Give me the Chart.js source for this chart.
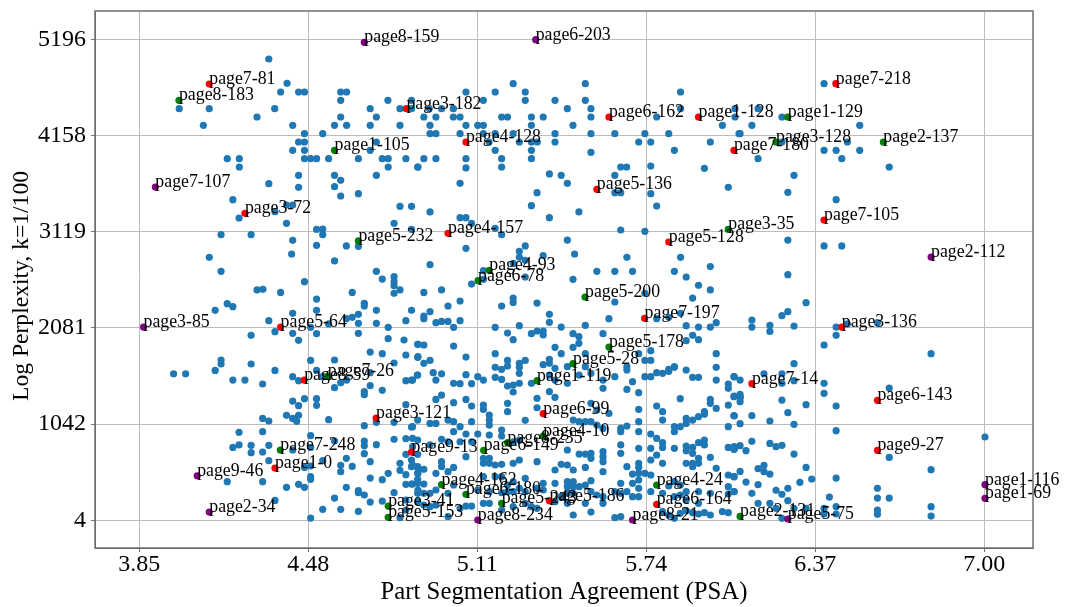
<!DOCTYPE html>
<html><head><meta charset="utf-8">
<script src="https://cdn.jsdelivr.net/npm/chart.js@4"></script>
<style>html,body{margin:0;padding:0;background:#fff}canvas{display:block}</style></head>
<body><canvas id="c" width="1065" height="607"></canvas>
<script>
const xTicks=[3.85,4.48,5.11,5.74,6.37,7.00];
const yTicks=[4,1042,2081,3119,4158,5196];
const xTitle="Part Segmentation Agreement (PSA)";
const yTitle="Log Perplexity, k=1/100";
const redPoints=[["page7-81",4.111,4713],["page3-182",4.846,4447],["page6-162",5.601,4357],["page1-128",5.935,4357],["page7-218",6.447,4717],["page4-128",5.068,4087],["page7-180",6.067,3997],["page5-136",5.556,3576],["page7-105",6.403,3245],["page3-72",4.244,3317],["page4-157",5.001,3101],["page5-128",5.824,3008],["page7-197",5.734,2184],["page5-64",4.377,2090],["page3-136",6.469,2090],["page8-59",4.465,1518],["page3-121",4.733,1108],["page7-14",6.134,1479],["page6-143",6.602,1299],["page6-99",5.356,1155],["page9-27",6.602,759],["page9-13",4.865,741],["page1-0",4.356,568],["page6-164",5.779,176],["page5-186",5.379,216]];
const greenPoints=[["page8-183",3.998,4537],["page1-129",6.268,4357],["page3-128",6.224,4087],["page2-137",6.624,4087],["page1-105",4.578,3997],["page5-232",4.667,3019],["page3-35",6.046,3144],["page4-93",5.155,2702],["page6-78",5.113,2590],["page5-200",5.512,2414],["page5-178",5.601,1874],["page5-28",5.467,1694],["page1-119",5.333,1511],["page7-26",4.553,1561],["page7-248",4.376,763],["page4-10",5.356,914],["page8-235",5.223,842],["page6-149",5.134,759],["page4-162",4.977,388],["page6-180",5.068,284],["page5-243",5.201,187],["page4-24",5.779,385],["page3-41",4.778,158],["page5-153",4.778,36],["page2-131",6.090,46]];
const purplePoints=[["page8-159",4.689,5163],["page6-203",5.328,5192],["page7-107",3.910,3601],["page2-112",6.802,2846],["page3-85",3.866,2090],["page9-46",4.066,485],["page2-34",4.111,93],["page8-234",5.112,7],["page8-21",5.689,7],["page5-75",6.268,18],["page1-116",7.003,388],["page1-69",7.003,241]];
const blueLeftTop=[[4.333,4983],[4.401,4720],[4.377,4627],[4.444,4627],[4.466,4627],[4.601,4627],[4.623,4627],[4.601,4537],[4.777,4537],[4.865,4537],[3.999,4447],[4.111,4447],[4.355,4447],[4.711,4447],[4.822,4447],[4.865,4447],[4.289,4357],[4.601,4357],[4.734,4357],[4.089,4267],[4.422,4267],[4.578,4267],[4.623,4267],[4.711,4267],[4.822,4267],[4.466,4177],[4.534,4177],[4.444,4087],[4.466,4087],[4.734,4087],[4.422,3997],[4.466,3997],[4.711,3997],[4.178,3907],[4.223,3907],[4.466,3907],[4.489,3907],[4.511,3907],[4.556,3907],[4.667,3907],[4.756,3907],[4.778,3907],[4.844,3907],[4.223,3817],[4.778,3817],[4.888,3817],[4.444,3727],[4.578,3727],[4.734,3727],[4.333,3637],[4.601,3673],[4.444,3598],[4.578,3605],
[4.601,3504],[4.667,3529],[4.199,3465],[4.822,3393],[4.865,3393],[4.356,3335],[4.399,3407],[4.422,3407],[4.222,3267],[4.399,3209],[4.800,3209],[4.511,3144],[4.534,3148],[4.865,3144],[4.155,3087],[4.267,3087],[4.534,3087],[4.422,3026],[4.511,2972],[4.622,2965],[4.667,2961],[4.418,2878],[4.111,2842],[4.578,2803],[4.155,2691],[4.734,2691],[4.756,2608],[4.800,2634],[4.800,2580],[4.800,2536],[4.466,2580],[4.289,2490],[4.311,2497],[4.377,2464],[4.822,2490],[4.800,2454],[4.644,2464],[4.511,2392],[4.689,2346],[4.689,2317],[4.178,2342],[4.199,2310],[4.133,2270],[4.511,2270],[4.734,2270],[4.865,2270],[4.422,2238],[4.667,2227],[4.644,2195],[4.622,2180],[4.333,2159],[4.844,2159],[4.667,2130],[4.734,2130],[4.556,2123],[4.489,2087],[4.778,2087],[4.356,2040],[4.422,2022],[4.511,2018],[4.667,2022],[4.267,2000],[4.778,1964],[4.444,1946],[4.837,1950],[4.888,1903],[4.711,1820],[4.756,1802],[4.844,1788],[4.888,1763],[4.489,1730],[4.578,1734],[4.155,1734],[4.155,1691],[4.267,1691],[4.800,1702]];
const blueLeftBottom=[[4.133,1622],[4.356,1622],[3.978,1586],[4.023,1586],[4.511,1622],[4.711,1597],[4.422,1554],[4.534,1554],[4.199,1518],[4.244,1518],[4.444,1511],[4.310,1475],[4.601,1489],[4.623,1518],[4.844,1511],[4.865,1518],[4.888,1572],[4.578,1435],[4.711,1457],[4.756,1407],[4.689,1392],[4.689,1360],[4.466,1317],[4.511,1317],[4.422,1291],[4.511,1245],[4.444,1241],[4.844,1252],[4.399,1137],[4.444,1137],[4.422,1104],[4.437,1072],[4.310,1104],[4.333,1076],[4.556,1090],[4.734,1061],[4.800,1061],[4.888,1086],[4.689,1025],[4.865,1011],[4.222,953],[4.310,960],[4.489,917],[4.800,878],[4.844,885],[4.888,870],[4.689,860],[4.689,809],[4.734,820],[4.578,860],[4.222,817],[4.199,791],[4.267,813],[4.333,813],[4.489,791],[4.267,734],[4.310,741],[4.422,763],[4.689,723],[4.844,716],[4.888,716],[4.333,647],[4.534,647],[4.622,673],[4.711,637],[4.865,655],[4.822,619],[4.865,583],[4.888,583],[4.644,586],[4.601,597],[4.601,529],[4.466,575],[4.489,590],[4.822,543],[4.844,496],[4.888,511],[4.778,511],[4.489,475],[4.489,446],[4.711,460],[4.756,442],[4.888,446],[4.178,421],[4.310,421],[4.844,392],[4.865,396],[4.888,403],[4.444,392],[4.466,360],[4.399,360],[4.622,360],[4.667,324],[4.667,302],[4.800,302],[4.888,295],[4.578,244],[4.689,277],[4.356,219],[4.711,201],[4.756,212],[4.844,223],[4.888,205],[4.534,122],[4.601,122],[4.667,100],[4.844,115],[4.489,28],[4.822,32]];
const blueMiddleTop=[[5.244,4717],[5.513,4717],[5.068,4627],[5.177,4627],[5.289,4627],[5.868,4627],[5.133,4537],[5.289,4537],[5.400,4537],[5.513,4537],[4.931,4447],[4.977,4447],[5.021,4447],[5.446,4447],[5.534,4447],[5.868,4447],[6.071,4447],[4.911,4357],[4.956,4357],[5.021,4357],[5.046,4357],[5.201,4357],[5.223,4357],[5.312,4357],[5.356,4357],[5.534,4357],[5.779,4357],[6.071,4357],[4.934,4267],[5.068,4267],[5.112,4267],[5.133,4267],[5.312,4267],[5.467,4267],[6.024,4267],[4.934,4177],[4.956,4177],[5.046,4177],[5.133,4177],[5.177,4177],[5.244,4177],[5.400,4177],[5.534,4177],[5.623,4177],[5.735,4177],[5.824,4177],[6.086,4177],[5.154,4087],[5.267,4087],[5.312,4087],[5.334,4087],[5.400,4087],[5.712,4087],[5.757,4087],[5.979,4087],[5.177,3997],[5.312,3997],[5.845,3997],[5.534,3976],[4.911,3907],[4.956,3907],[5.068,3907],[5.201,3907],[5.312,3907],[4.889,3817],[5.068,3807],[5.201,3817],[5.645,3817],[5.667,3817],[5.757,3828],[5.957,3803],[5.379,3742],[5.423,3727],[5.623,3727],[5.046,3641],[5.446,3641],[6.046,3598]];
const blueMiddleMid=[[5.623,3540],[5.645,3540],[5.333,3540],[5.757,3529],[5.312,3400],[5.779,3396],[4.934,3332],[5.489,3332],[5.379,3270],[5.046,3270],[5.068,3270],[5.089,3209],[5.177,3155],[5.645,3137],[5.735,3123],[5.201,3087],[5.446,3029],[5.068,2939],[5.289,2965],[5.267,2907],[5.267,2842],[5.289,2810],[5.356,2860],[5.473,2878],[5.668,2842],[5.868,2842],[4.934,2763],[5.244,2777],[5.979,2742],[5.133,2698],[5.556,2691],[5.623,2691],[5.689,2691],[5.845,2691],[5.889,2630],[5.289,2630],[5.467,2605],[5.133,2605],[5.089,2554],[5.935,2540],[4.977,2490],[4.911,2464],[5.979,2490],[5.735,2454],[5.244,2403],[5.244,2356],[5.913,2403],[5.046,2371],[5.333,2349],[5.623,2360],[5.201,2317],[5.001,2317],[4.934,2256],[4.911,2209],[4.911,2180],[5.379,2227],[5.379,2141],[5.601,2180],[5.779,2180],[5.824,2195],[5.868,2238],[4.956,2137],[4.977,2151],[5.001,2151],[5.046,2159],[5.022,2087],[5.177,2087],[5.267,2105],[5.423,2090],[5.513,2108],[5.889,2105],[5.935,2090],[5.979,2090],[6.001,2137],[5.223,2025],[5.312,2018],[5.333,2047],[5.356,2047],[5.356,2004],[5.467,2018],[5.489,1986],[5.579,2018],[5.913,2000],[5.244,1953],[5.935,1953],[5.889,1943],[4.889,1903],[4.911,1896],[5.022,1885],[5.489,1914],[5.467,1871],[5.400,1871],[5.757,1835],[5.177,1802],[5.423,1802],[5.513,1802],[4.889,1770],[5.068,1766],[5.712,1802],[6.001,1802],[4.934,1730],[4.911,1698],[5.223,1730],[5.289,1730],[5.379,1741],[5.379,1698],[5.356,1684],[5.267,1698],[5.267,1655],[5.223,1669],[5.177,1655],[5.201,1633],[5.400,1644],[5.446,1662],[5.513,1662],[5.735,1730],[5.757,1730],[5.668,1662],[5.845,1662],[5.824,1633],[6.001,1655]];
const blueMiddleBottomA=[[4.887,1572],[4.946,1597],[4.977,1586],[5.068,1576],[5.022,1482],[5.046,1479],[5.089,1479],[4.956,1518],[4.869,1518],[5.112,1554],[5.133,1518],[5.177,1547],[5.201,1525],[5.223,1453],[5.244,1464],[5.267,1482],[5.244,1389],[5.267,1590],[5.312,1482],[5.379,1572],[5.400,1518],[5.446,1482],[5.490,1572],[5.534,1590],[5.579,1518],[5.579,1428],[5.623,1554],[5.668,1626],[5.668,1417],[5.689,1500],[5.712,1381],[5.735,1554],[5.757,1554],[5.779,1597],[5.801,1590],[5.824,1612],[5.845,1655],[5.889,1626],[5.913,1547],[5.935,1547],[6.001,1518],[6.046,1475],[6.046,1428],[6.068,1554],[6.046,1248],[6.068,1345],[6.091,1331],[4.977,1356],[4.956,1309],[5.022,1273],[5.068,1309],[5.089,1237],[5.133,1248],[5.133,1201],[5.223,1266],[5.223,1176],[5.155,1140],[5.155,1086],[5.155,1032],[5.089,1068],[5.289,1083],[5.333,1320],[5.333,1219],[5.379,1392],[5.400,1331],[5.534,1266],[5.556,1194],[5.601,1158],[5.712,1201],[5.779,1237],[5.801,1176],[5.801,1086],[5.867,1317],[5.913,1086],[5.889,1104],[5.935,1122],[5.957,1176],[5.957,1148],[5.979,1309],[5.979,1266],[6.001,1212],[6.068,1130],[6.046,1014],[4.869,1014],[4.934,1050],[4.956,1050],[5.001,1086],[5.022,1068],[5.046,1014],[5.468,1086],[5.490,1068],[5.513,1068],[5.534,1068],[5.556,1032],[5.579,996],[5.645,996],[5.645,960],[5.668,1022],[5.712,1068],[5.712,960],[5.757,935],[5.845,1014],[5.845,960],[5.867,1014],[5.889,1050],[5.957,870],[5.935,842],[6.068,799],[5.022,960],[5.068,935],[5.112,935],[5.155,924],[5.201,914],[5.201,978],[5.244,852],[5.267,870],[4.869,888],[4.977,878],[5.046,852],[5.089,852],[5.001,852],[4.934,817],[4.869,799]];
const blueMiddleBottomB=[[5.446,763],[5.490,719],[5.513,719],[5.534,727],[5.534,673],[5.579,745],[5.579,691],[5.579,637],[5.579,529],[5.468,547],[5.513,575],[5.400,547],[5.423,608],[5.446,601],[5.333,637],[5.267,655],[5.244,619],[5.201,608],[5.177,601],[5.155,673],[5.155,619],[5.133,673],[5.133,619],[5.068,691],[5.022,575],[4.977,637],[4.977,583],[5.001,529],[4.911,554],[4.889,565],[4.869,601],[4.889,511],[4.869,396],[4.911,396],[4.956,511],[5.645,817],[5.645,727],[5.668,583],[5.712,781],[5.712,619],[5.712,575],[5.689,503],[5.712,511],[5.735,511],[5.757,493],[5.757,655],[5.757,781],[5.779,888],[5.779,709],[5.801,842],[5.801,791],[5.801,619],[5.845,781],[5.889,806],[5.889,755],[5.913,791],[5.913,727],[5.935,673],[5.957,817],[5.889,619],[5.913,619],[5.913,583],[5.935,619],[5.979,683],[6.046,791],[6.068,770],[6.068,475],[6.001,565],[6.046,493],[5.468,421],[5.446,421],[5.400,403],[5.356,403],[5.446,367],[5.468,367],[5.289,457],[5.244,421],[5.223,385],[5.201,475],[5.177,475],[5.133,475],[5.155,313],[5.112,331],[5.022,385],[5.001,295],[4.956,331],[4.889,331],[4.934,295],[4.911,295],[5.534,432],[5.513,385],[5.490,367],[5.534,313],[5.556,277],[5.645,403],[5.689,403],[5.712,439],[5.712,349],[5.668,313],[5.689,259],[5.712,259],[5.757,313],[5.623,313],[5.579,259],[5.468,295],[5.446,295],[5.423,259],[5.400,205],[5.356,331],[5.333,349],[5.289,313],[5.267,349],[5.244,313],[5.223,313],[5.201,302],[5.089,158],[5.068,158],[5.046,133],[5.001,43],[4.956,169],[4.934,151],[4.911,169],[5.155,187],[5.133,187],[5.201,115],[5.244,151],[5.289,187],[5.312,151],[5.333,133],[5.468,61],[5.534,93],[5.446,187],[5.513,187],[5.579,187],[5.645,43],[5.623,32],[5.645,295],[5.845,421],[5.867,385],[5.824,374],[5.889,313],[5.867,277],[5.801,295],[5.845,259],[5.889,223],[5.935,187],[5.935,313],[5.979,295],[6.046,288],[6.068,313],[6.046,367],[5.801,97],[5.824,61],[5.845,25],[5.867,79],[5.889,108],[5.913,86],[5.935,72],[5.957,86],[5.979,61],[6.024,97],[6.046,86]];
const blueRight=[[6.403,4717],[6.157,4447],[6.246,4357],[6.134,4267],[6.536,4267],[6.090,4177],[6.246,4087],[6.490,4087],[6.403,3997],[6.448,3997],[6.536,3997],[6.157,3907],[6.469,3907],[6.646,3817],[6.291,3727],[6.268,3544],[6.448,3465],[6.268,3029],[6.403,2965],[6.469,2965],[6.268,2655],[6.336,2353],[6.268,2256],[6.246,2213],[6.134,2166],[6.134,2090],[6.201,2108],[6.201,2043],[6.291,2101],[6.448,2090],[6.490,2123],[6.602,2137],[6.448,2000],[6.403,1896],[6.802,1802],[6.291,1694],
[6.179,1586],[6.246,1586],[6.067,1554],[6.090,1518],[6.246,1482],[6.291,1511],[6.403,1482],[6.403,1374],[6.067,1338],[6.090,1363],[6.090,1284],[6.246,1302],[6.336,1252],[6.448,1237],[6.268,1166],[6.134,1133],[6.067,1133],[6.201,1076],[6.090,1047],[6.291,1040],[6.448,971],[6.646,1432],[6.134,856],[6.090,809],[6.201,834],[6.224,799],[6.246,813],[6.067,770],[6.112,755],[6.291,719],[6.646,683],[6.179,597],[6.157,561],[6.179,529],[6.201,503],[6.336,575],[6.090,532],[6.067,475],[6.112,417],[6.157,388],[6.313,414],[6.357,450],[6.448,460],[6.268,349],[6.224,327],[6.246,284],[6.134,295],[6.268,216],[6.423,255],[6.067,313],[6.201,187],[6.157,187],[6.224,133],[6.448,151],[6.403,133],[6.602,349],[6.602,244],[6.646,244],[6.802,550],[6.802,151],[6.802,50],[6.602,115],[6.602,68],[7.003,903],[6.246,25],[6.291,133],[6.336,133],[6.403,72],[6.448,72]];

const bluePoints=[...blueLeftTop,...blueLeftBottom,...blueMiddleTop,...blueMiddleMid,...blueMiddleBottomA,...blueMiddleBottomB,...blueRight];
const toXY=p=>({x:p[0],y:p[1]});
const toLabeled=p=>({x:p[1],y:p[2],label:p[0]});
const frameColor='#6e6e6e',gridColor='#bcbcbc';
const serif='"Liberation Serif","Times New Roman",serif';
const labelPlugin={id:'labels',
 afterDatasetsDraw(chart){
  const {ctx,scales:{x,y}}=chart;
  ctx.save();
  ctx.font='17.8px '+serif;ctx.fillStyle='#000';ctx.textAlign='left';ctx.textBaseline='alphabetic';
  for(const d of chart.data.datasets){ if(!d.showNames) continue;
   for(const p of d.data){ctx.fillText(p.label,x.getPixelForValue(p.x),y.getPixelForValue(p.y));}
  }
  ctx.restore();
 },
 afterDraw(chart){
  const {ctx,chartArea:a}=chart;
  ctx.save();ctx.strokeStyle=frameColor;ctx.lineWidth=1.5;ctx.strokeRect(a.left,a.top,a.right-a.left,a.bottom-a.top);
  ctx.translate(28,286);ctx.rotate(-Math.PI/2);ctx.font='23.6px '+serif;ctx.fillStyle='#000';ctx.textAlign='center';ctx.textBaseline='alphabetic';ctx.fillText(yTitle,0,0);
  ctx.restore();
 }};
new Chart(document.getElementById('c'),{
 type:'scatter',
 plugins:[labelPlugin],
 data:{datasets:[
  {data:redPoints.map(toLabeled),backgroundColor:'#ff0000',showNames:true,order:1},
  {data:greenPoints.map(toLabeled),backgroundColor:'#008000',showNames:true,order:1},
  {data:purplePoints.map(toLabeled),backgroundColor:'#800080',showNames:true,order:1},
  {data:bluePoints.map(toXY),backgroundColor:'#1f77b4',order:2}
 ]},
 options:{
  responsive:false,animation:false,
  elements:{point:{radius:3.6,borderWidth:0,hoverRadius:3.6}},
  layout:{padding:{left:0,right:32,top:11,bottom:0}},
  plugins:{legend:{display:false},tooltip:{enabled:false}},
  scales:{
   x:{type:'linear',min:3.685,max:7.182,
    afterBuildTicks:s=>{s.ticks=xTicks.map(v=>({value:v}));},
    afterFit:s=>{s.height=59;s.paddingLeft=0;s.paddingRight=0;},
    grid:{color:gridColor,lineWidth:1,tickLength:4,tickColor:frameColor,drawTicks:true},
    border:{color:frameColor,width:1},
    ticks:{autoSkip:false,maxRotation:0,padding:1,color:'#000',font:{family:serif,size:24,lineHeight:1},callback:v=>Number(v).toFixed(2)},
    title:{display:true,text:xTitle,color:'#000',font:{family:serif,size:24.8},padding:{top:0,bottom:0}}},
   y:{type:'linear',min:-295,max:5501,
    afterBuildTicks:s=>{s.ticks=yTicks.map(v=>({value:v}));},
    afterFit:s=>{s.width=95;s.paddingTop=0;s.paddingBottom=0;},
    grid:{color:gridColor,lineWidth:1,tickLength:4,tickColor:frameColor,drawTicks:true},
    border:{color:frameColor,width:1},
    ticks:{autoSkip:false,padding:5,color:'#000',font:{family:serif,size:24},callback:v=>String(v)}}
  }
 }
});
</script></body></html>
